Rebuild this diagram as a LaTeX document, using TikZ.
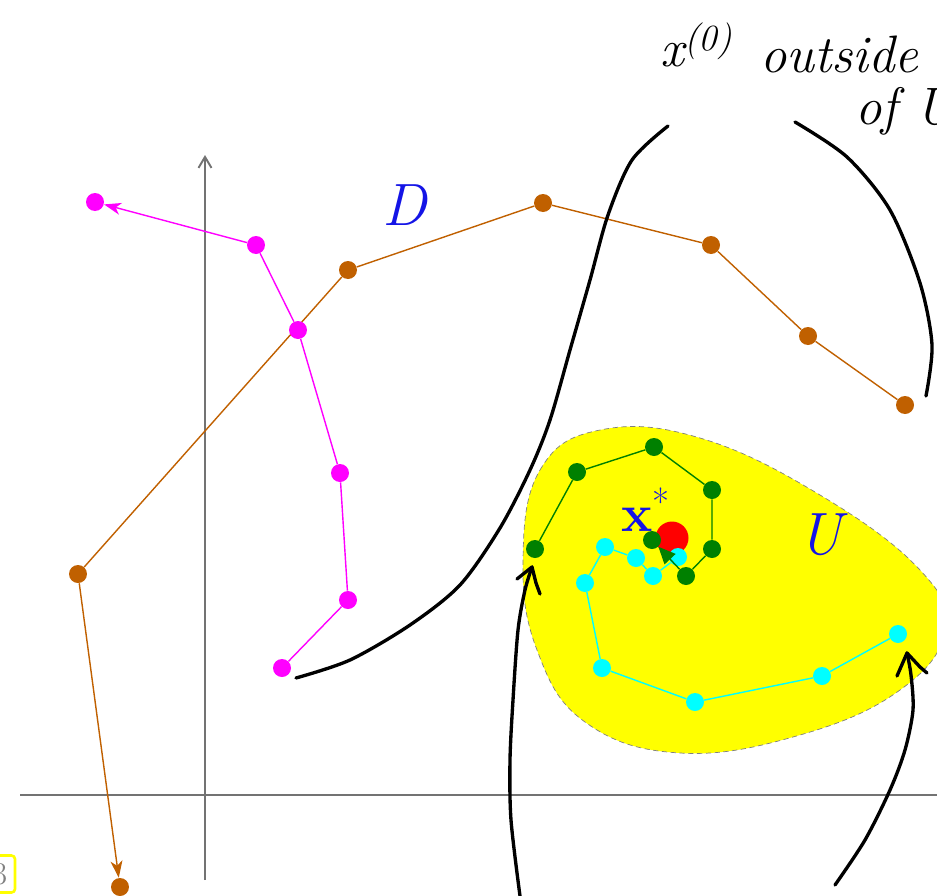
\documentclass[tikz,border=0pt]{standalone}
\usepackage{fontspec}
\usetikzlibrary{arrows.meta}
\definecolor{brn}{RGB}{192,96,0}
\definecolor{mag}{RGB}{255,0,255}
\definecolor{grn}{RGB}{0,128,0}
\definecolor{cyn}{RGB}{0,255,255}
\definecolor{ylw}{RGB}{255,255,0}
\definecolor{axgray}{RGB}{115,115,115}
\definecolor{lblue}{RGB}{20,20,230}
\begin{document}
\begin{tikzpicture}[x=0.02cm,y=-0.02cm,
  pdot/.style={circle,inner sep=0pt,minimum size=0.36cm},
  bdot/.style={pdot,fill=brn},
  mdot/.style={pdot,fill=mag},
  gdot/.style={pdot,fill=grn},
  cdot/.style={pdot,fill=cyn},
  bline/.style={draw=brn,line width=0.8pt},
  mline/.style={draw=mag,line width=0.8pt},
  gline/.style={draw=grn,line width=0.8pt},
  cline/.style={draw=cyn,line width=0.8pt},
  tip/.style={-{Stealth[length=0.34cm,width=0.24cm,inset=0.1cm]}},
  axis/.style={draw=axgray,line width=1.1pt},
  hand/.style={draw=black,line width=1.9pt,line cap=round,line join=round},
  lab/.style={text=lblue,font=\fontsize{34}{40}\selectfont\itshape},
  note/.style={font=\fontsize{30}{34}\selectfont\itshape,inner sep=0pt}]
\useasboundingbox (0,0) rectangle (937,896);
\clip (0,0) rectangle (937,896);
% axes
\coordinate (yb) at (205,880);
\coordinate (yt) at (205,155);
\coordinate (xl) at (20,795);
\coordinate (xr) at (945,795);
\draw[axis,-{Straight Barb[length=0.22cm,width=0.26cm]}] (yb) -- (yt);
\draw[axis] (xl) -- (xr);
% region U
\path[fill=ylw,draw=gray,densely dashed,line width=0.4pt] plot[smooth cycle,tension=0.7] coordinates
 {(523,560) (540,470) (600,430) (700,438) (820,495) (920,570) (945,630) (900,690) (800,735) (680,753) (585,722) (537,650)};
% brown path
\node[bdot] (b1) at (905,405) {};
\node[bdot] (b2) at (808,336) {};
\node[bdot] (b3) at (711,245) {};
\node[bdot] (b4) at (543,203) {};
\node[bdot] (b5) at (348,270) {};
\node[bdot] (b6) at (78,574) {};
\node[bdot] (b7) at (120,887) {};
\draw[bline] (b1) -- (b2) -- (b3) -- (b4) -- (b5) -- (b6);
\draw[bline,tip] (b6) -- (b7);
% magenta path
\node[mdot] (m1) at (282,668) {};
\node[mdot] (m2) at (348,600) {};
\node[mdot] (m3) at (340,473) {};
\node[mdot] (m4) at (298,330) {};
\node[mdot] (m5) at (256,245) {};
\node[mdot] (m6) at (95,202) {};
\draw[mline] (m1) -- (m2) -- (m3) -- (m4) -- (m5);
\draw[mline,tip] (m5) -- (m6);
% fixed point
\node[circle,fill=red,inner sep=0pt,minimum size=0.66cm] (xs) at (672,538) {};
% cyan path
\node[cdot] (c1) at (898,634) {};
\node[cdot] (c2) at (822,676) {};
\node[cdot] (c3) at (695,702) {};
\node[cdot] (c4) at (602,668) {};
\node[cdot] (c5) at (585,583) {};
\node[cdot] (c6) at (605,547) {};
\node[cdot] (c7) at (636,558) {};
\node[cdot] (c8) at (653,576) {};
\node[cdot] (c9) at (678,557) {};
\draw[cline] (c1) -- (c2) -- (c3) -- (c4) -- (c5) -- (c6) -- (c7) -- (c8) -- (c9);
% green path
\node[gdot] (g1) at (535,549) {};
\node[gdot] (g2) at (577,472) {};
\node[gdot] (g3) at (654,447) {};
\node[gdot] (g4) at (712,490) {};
\node[gdot] (g5) at (712,549) {};
\node[gdot] (g6) at (686,576) {};
\node[gdot] (g7) at (652,540) {};
\draw[gline] (g1) -- (g2) -- (g3) -- (g4) -- (g5) -- (g6);
\draw[gline,-{Triangle[length=0.34cm,width=0.3cm]}] (g6) -- (g7);
% labels
\node[lab] (D) at (405,205) {D};
\node[lab] (U) at (820,535) {U};
\node[text=lblue,font=\fontsize{30}{34}\selectfont] (xstar) at (646,510) {\textbf{x}\textsuperscript{*}};
% handwritten notes
\node[note,anchor=base west] (n1) at (660,66) {x\textsuperscript{(0)}};
\node[note,anchor=base west] (n2) at (760,72) {outside};
\node[note,anchor=base west] (n3) at (855,124) {of U};
% box at left edge
\node[draw=ylw,line width=1.5pt,rounded corners=2pt,text=gray,font=\fontsize{18}{20}\selectfont,minimum width=0.6cm,minimum height=0.74cm] (pg) at (0,874) {3};
% hand-drawn curves
\coordinate (h1s) at (296,678);
\coordinate (h1e) at (668,126);
\draw[hand] plot[smooth] coordinates {(h1s) (350,660) (410,625) (460,585) (500,528) (530,470) (550,420) (570,350) (590,280) (608,215) (632,160) (h1e)};
\coordinate (h2s) at (795,122);
\coordinate (h2e) at (926,396);
\draw[hand] plot[smooth] coordinates {(h2s) (847,157) (890,210) (920,283) (932,345) (h2e)};
\coordinate (h3s) at (520,896);
\coordinate (h3t) at (532,567);
\draw[hand] plot[smooth] coordinates {(h3s) (511,820) (510,760) (513,700) (518,630) (525,590) (h3t)};
\draw[hand] (517,579) -- (h3t) -- (536,583) -- (540,594);
\coordinate (h4s) at (835,885);
\coordinate (h4t) at (907,653);
\draw[hand] plot[smooth] coordinates {(h4s) (865,840) (890,790) (905,750) (913,710) (911,675) (h4t)};
\draw[hand] (897,676) -- (h4t) -- (920,667) -- (927,673);
\end{tikzpicture}
\end{document}
